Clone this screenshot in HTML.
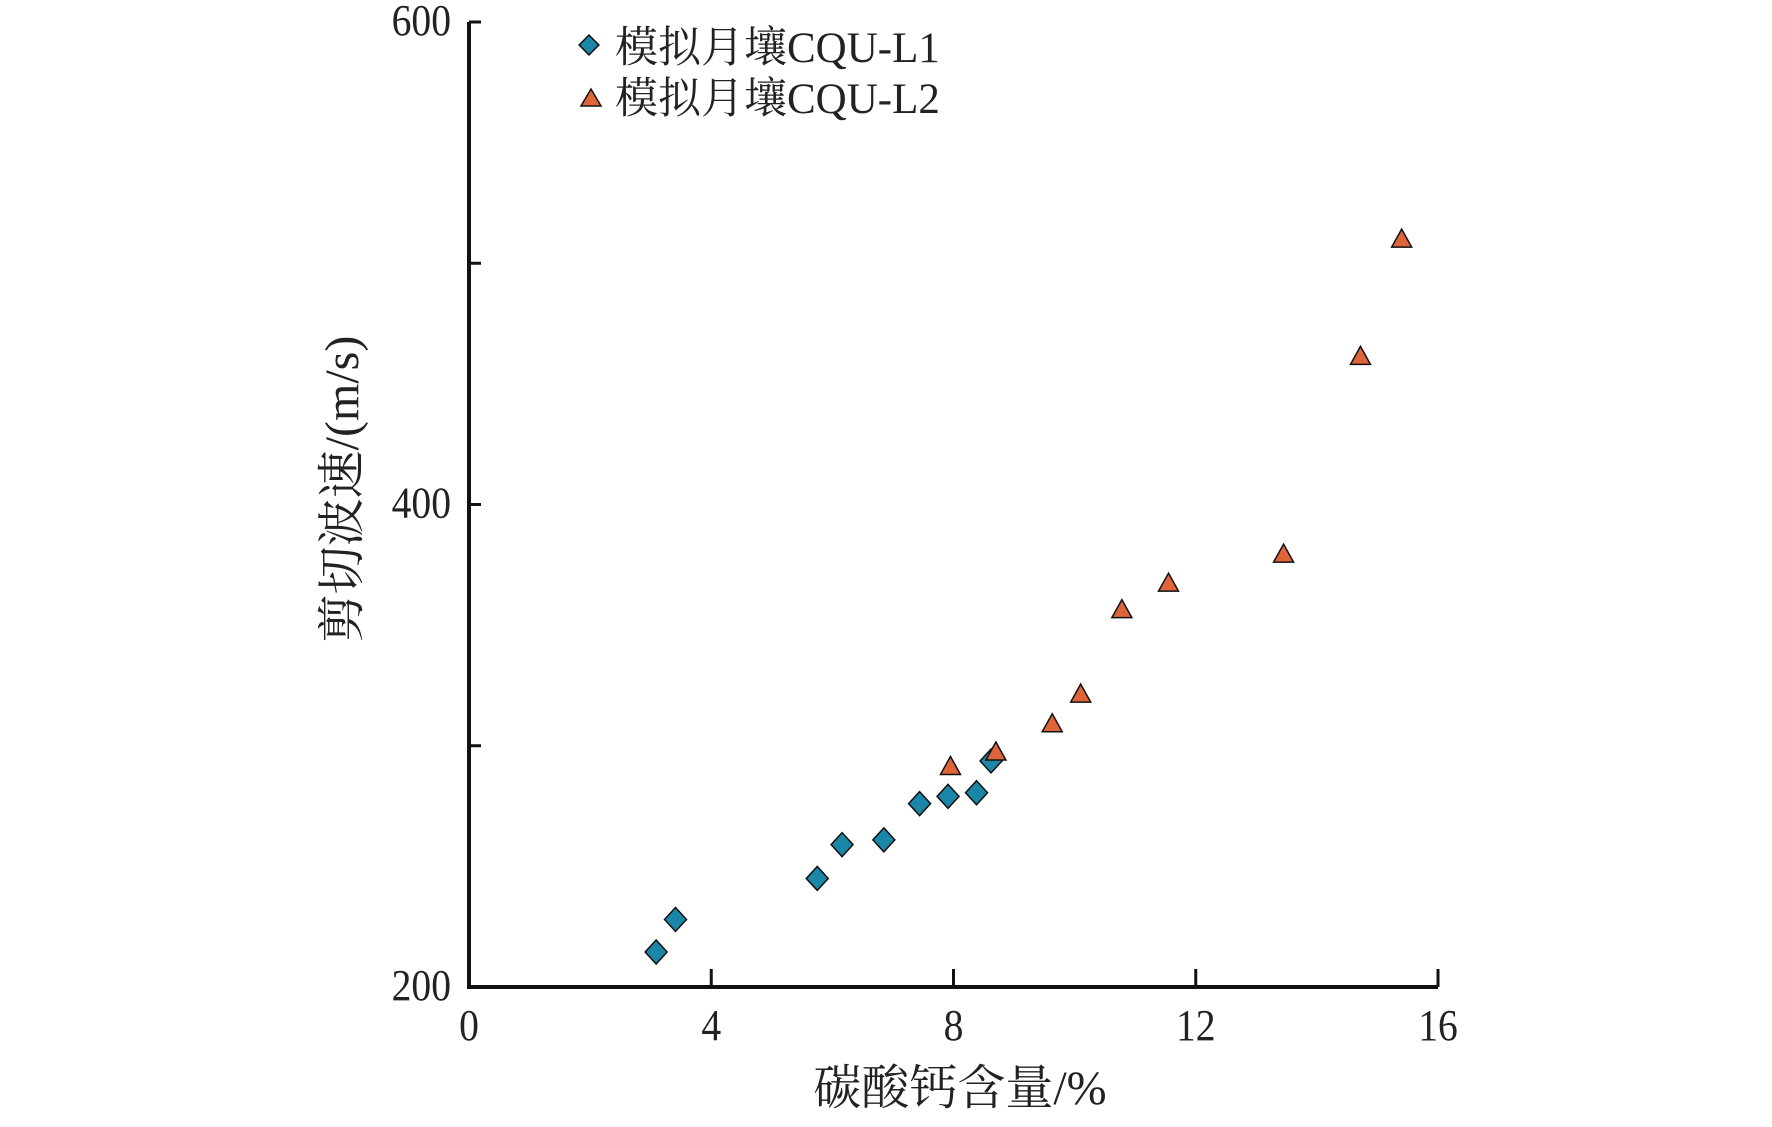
<!DOCTYPE html>
<html><head><meta charset="utf-8"><style>
body{margin:0;background:#fff}
svg text{font-family:"Liberation Serif","Noto Serif CJK SC",serif;fill:#222}
</style></head><body>
<svg id="chart" width="1772" height="1122" viewBox="0 0 1772 1122" xmlns="http://www.w3.org/2000/svg">
<g id="axes"></g><g id="marks"></g>
<g>
<rect x="582" y="38" width="14" height="14" transform="rotate(45 589 45)" fill="#1a86a8" stroke="#111" stroke-width="1.5"/>
<text x="615" y="62" font-size="43">模拟月壤CQU-L1</text>
<polygon points="591,89 601,106 581,106" fill="#e0643a" stroke="#111" stroke-width="1.5"/>
<text x="615" y="113" font-size="43">模拟月壤CQU-L2</text>
</g>
<text x="960" y="1104" font-size="48" text-anchor="middle">碳酸钙含量/%</text>
<text transform="translate(358,489) rotate(-90)" font-size="48" text-anchor="middle">剪切波速/(m/s)</text>
</svg>
<script>
const xTicks=[0,4,8,12,16];
const yTicks=[200,300,400,500,600];
const yLabels=[200,400,600];
const l1X=[3.09,3.41,5.75,6.16,6.85,7.44,7.91,8.38,8.62];
const l1Y=[214.5,228,245,259,261,276,279,280.5,293.7];
const l2X=[7.95,8.7,9.63,10.1,10.78,11.55,13.45,14.72,15.4];
const l2Y=[291,297,308.7,321,356,367,379,461,509.6];
const NS='http://www.w3.org/2000/svg';
const X0=469,X1=1438,Y0=987,Y1=22;
function sx(v){return X0+(v-0)/(16-0)*(X1-X0);}
function sy(v){return Y0-(v-200)/(600-200)*(Y0-Y1);}
function mk(t,a,p){const e=document.createElementNS(NS,t);for(const k in a)e.setAttribute(k,a[k]);p.appendChild(e);return e;}
const axes=document.getElementById('axes'),marks=document.getElementById('marks');
let el=mk('polyline',{points:`${X0},${Y1} ${X0},${Y0} ${X1},${Y0}`,fill:'none',stroke:'#111','stroke-width':4},axes);


xTicks.forEach(v=>{
 const t=mk('line',{x1:sx(v),x2:sx(v),y1:Y0,y2:Y0-18,stroke:'#111','stroke-width':3},axes);
 
 
 const l=mk('text',{transform:`translate(${sx(v)},${Y0+53}) scale(0.9,1)`,'font-size':44,'text-anchor':'middle'},axes);l.textContent=v;
 
 
});
yTicks.forEach(v=>{
 const t=mk('line',{x1:X0,x2:X0+12,y1:sy(v),y2:sy(v),stroke:'#111','stroke-width':3},axes);
 
 
});
yLabels.forEach(v=>{
 const l=mk('text',{transform:`translate(${X0-18},${sy(v)+13}) scale(0.9,1)`,'font-size':44,'text-anchor':'end'},axes);l.textContent=v;
 
 
});
l1X.forEach((x,i)=>{
 const cx=sx(x),cy=sy(l1Y[i]);
 const d=mk('polygon',{points:`${cx},${cy-12} ${cx+11},${cy} ${cx},${cy+12} ${cx-11},${cy}`,fill:'#1a86a8',stroke:'#111','stroke-width':1.5},marks);
 
 
});
l2X.forEach((x,i)=>{
 const cx=sx(x),cy=sy(l2Y[i]);
 const d=mk('polygon',{points:`${cx},${cy-11} ${cx+10},${cy+7} ${cx-10},${cy+7}`,fill:'#e0643a',stroke:'#111','stroke-width':1.5},marks);
 
 
});
</script>
</body></html>
